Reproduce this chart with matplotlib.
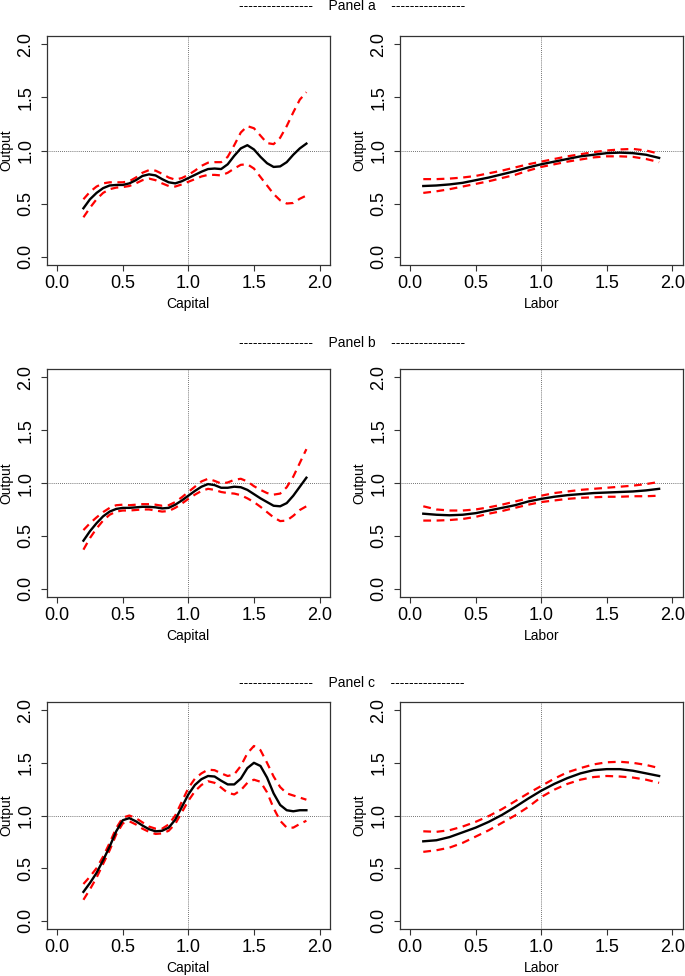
import matplotlib
matplotlib.use("Agg")
import matplotlib.pyplot as plt
import numpy as np

plt.rcParams['font.family'] = ['Liberation Sans', 'DejaVu Sans']

##### data #####
cap_x = [0.20, 0.25, 0.30, 0.35, 0.40, 0.45, 0.50, 0.55, 0.60, 0.65, 0.70, 0.75,
         0.80, 0.85, 0.90, 0.95, 1.00, 1.05, 1.10, 1.15, 1.20, 1.25, 1.30, 1.35,
         1.40, 1.45, 1.50, 1.55, 1.60, 1.65, 1.70, 1.75, 1.80, 1.85, 1.90]
lab_x = [0.1, 0.2, 0.3, 0.4, 0.5, 0.6, 0.7, 0.8, 0.9, 1.0,
         1.1, 1.2, 1.3, 1.4, 1.5, 1.6, 1.7, 1.8, 1.9]

# Panel a
a_cap_fit = [0.455, 0.54, 0.60, 0.645, 0.67, 0.675, 0.675, 0.69, 0.72, 0.76, 0.775, 0.765,
             0.73, 0.70, 0.69, 0.71, 0.74, 0.77, 0.80, 0.825, 0.83, 0.825, 0.87, 0.95,
             1.02, 1.05, 1.01, 0.94, 0.88, 0.845, 0.85, 0.89, 0.96, 1.02, 1.065]
a_cap_up = [0.54, 0.61, 0.66, 0.69, 0.70, 0.70, 0.70, 0.71, 0.745, 0.79, 0.815, 0.81,
            0.78, 0.745, 0.725, 0.74, 0.77, 0.81, 0.855, 0.885, 0.89, 0.89, 0.94, 1.05,
            1.17, 1.23, 1.21, 1.14, 1.07, 1.06, 1.12, 1.23, 1.36, 1.48, 1.55]
a_cap_lo = [0.37, 0.46, 0.54, 0.60, 0.635, 0.65, 0.655, 0.665, 0.69, 0.72, 0.735, 0.72,
            0.69, 0.665, 0.66, 0.68, 0.705, 0.73, 0.755, 0.77, 0.77, 0.765, 0.79, 0.83,
            0.865, 0.87, 0.83, 0.75, 0.67, 0.59, 0.53, 0.50, 0.505, 0.545, 0.575]
a_lab_fit = [0.665, 0.67, 0.68, 0.695, 0.72, 0.745, 0.775, 0.805, 0.84, 0.87,
             0.895, 0.92, 0.945, 0.96, 0.975, 0.98, 0.975, 0.96, 0.93]
a_lab_up = [0.73, 0.73, 0.735, 0.745, 0.76, 0.785, 0.81, 0.84, 0.87, 0.895,
            0.92, 0.945, 0.965, 0.985, 1.0, 1.01, 1.015, 1.0, 0.97]
a_lab_lo = [0.60, 0.615, 0.635, 0.66, 0.685, 0.71, 0.74, 0.77, 0.81, 0.845,
            0.87, 0.895, 0.915, 0.935, 0.945, 0.945, 0.94, 0.92, 0.89]

# Panel b
b_cap_fit = [0.455, 0.545, 0.62, 0.685, 0.73, 0.755, 0.765, 0.765, 0.77, 0.775, 0.775, 0.77,
             0.76, 0.765, 0.795, 0.835, 0.88, 0.925, 0.965, 0.99, 0.98, 0.955, 0.955, 0.965,
             0.96, 0.935, 0.895, 0.855, 0.82, 0.785, 0.78, 0.81, 0.88, 0.965, 1.05]
b_cap_up = [0.555, 0.62, 0.675, 0.725, 0.765, 0.79, 0.795, 0.79, 0.795, 0.80, 0.80, 0.795,
            0.785, 0.79, 0.82, 0.865, 0.915, 0.965, 1.015, 1.04, 1.02, 0.995, 1.005, 1.03,
            1.04, 1.015, 0.97, 0.935, 0.905, 0.89, 0.90, 0.96, 1.06, 1.19, 1.32]
b_cap_lo = [0.37, 0.48, 0.57, 0.645, 0.70, 0.73, 0.74, 0.74, 0.745, 0.75, 0.75, 0.74,
            0.73, 0.735, 0.765, 0.805, 0.85, 0.89, 0.925, 0.945, 0.935, 0.915, 0.905, 0.90,
            0.885, 0.855, 0.82, 0.775, 0.725, 0.675, 0.64, 0.645, 0.69, 0.745, 0.78]
b_lab_fit = [0.71, 0.70, 0.695, 0.70, 0.715, 0.74, 0.765, 0.79, 0.825, 0.85,
             0.87, 0.885, 0.895, 0.905, 0.91, 0.915, 0.92, 0.93, 0.945]
b_lab_up = [0.78, 0.75, 0.74, 0.74, 0.75, 0.77, 0.795, 0.825, 0.855, 0.88,
            0.905, 0.92, 0.935, 0.945, 0.955, 0.965, 0.975, 0.99, 1.01]
b_lab_lo = [0.645, 0.645, 0.65, 0.66, 0.68, 0.71, 0.735, 0.765, 0.795, 0.82,
            0.835, 0.85, 0.86, 0.865, 0.87, 0.87, 0.875, 0.875, 0.88]

# Panel c
c_cap_fit = [0.275, 0.36, 0.455, 0.575, 0.705, 0.85, 0.955, 0.975, 0.945, 0.905, 0.87, 0.85,
             0.855, 0.885, 0.96, 1.08, 1.20, 1.29, 1.345, 1.375, 1.37, 1.33, 1.295, 1.295,
             1.35, 1.45, 1.50, 1.47, 1.36, 1.21, 1.10, 1.05, 1.04, 1.05, 1.05]
c_cap_up = [0.35, 0.42, 0.50, 0.61, 0.74, 0.88, 0.98, 1.00, 0.975, 0.935, 0.895, 0.875,
            0.875, 0.915, 1.00, 1.13, 1.26, 1.35, 1.40, 1.435, 1.43, 1.40, 1.375, 1.39,
            1.47, 1.59, 1.66, 1.62, 1.50, 1.37, 1.27, 1.21, 1.19, 1.17, 1.15]
c_cap_lo = [0.20, 0.30, 0.41, 0.54, 0.67, 0.82, 0.925, 0.945, 0.915, 0.875, 0.845, 0.825,
            0.83, 0.855, 0.92, 1.03, 1.14, 1.23, 1.29, 1.325, 1.31, 1.265, 1.215, 1.20,
            1.24, 1.31, 1.34, 1.32, 1.22, 1.07, 0.95, 0.885, 0.885, 0.92, 0.95]
c_lab_fit = [0.755, 0.765, 0.795, 0.84, 0.885, 0.94, 1.005, 1.08, 1.16, 1.235,
             1.30, 1.355, 1.40, 1.43, 1.44, 1.44, 1.425, 1.40, 1.375]
c_lab_up = [0.85, 0.845, 0.86, 0.895, 0.94, 0.995, 1.06, 1.135, 1.21, 1.28,
            1.35, 1.41, 1.45, 1.485, 1.505, 1.51, 1.50, 1.48, 1.45]
c_lab_lo = [0.655, 0.67, 0.695, 0.74, 0.80, 0.86, 0.93, 1.00, 1.08, 1.175,
            1.245, 1.30, 1.34, 1.365, 1.375, 1.37, 1.36, 1.34, 1.31]

panels = ['a', 'b', 'c']
cap_data = [(a_cap_fit, a_cap_up, a_cap_lo), (b_cap_fit, b_cap_up, b_cap_lo), (c_cap_fit, c_cap_up, c_cap_lo)]
lab_data = [(a_lab_fit, a_lab_up, a_lab_lo), (b_lab_fit, b_lab_up, b_lab_lo), (c_lab_fit, c_lab_up, c_lab_lo)]

##### layout (pixels of a 685x976 figure) #####
W, H = 685, 976
fig = plt.figure(figsize=(W / 100, H / 100), dpi=100)

col_lr = [(46.7, 330.0), (399.7, 682.7)]
row_tb = [(36.0, 265.0), (368.7, 597.3), (701.7, 929.3)]
title_y = [6, 343, 683]


def style_axes(ax, xlabel):
    ax.set_xlim(-0.08, 2.08)
    ax.set_ylim(-0.08, 2.08)
    ax.set_xticks([0.0, 0.5, 1.0, 1.5, 2.0])
    ax.set_yticks([0.0, 0.5, 1.0, 1.5, 2.0])
    ax.set_xticklabels(['0.0', '0.5', '1.0', '1.5', '2.0'], fontsize=13)
    ax.set_yticklabels(['0.0', '0.5', '1.0', '1.5', '2.0'], fontsize=13,
                       rotation=90, va='center')
    ax.tick_params(direction='out', length=4, width=0.8, color='#333333')
    ax.tick_params(axis='x', pad=3)
    ax.tick_params(axis='y', pad=5)
    for s in ax.spines.values():
        s.set_linewidth(0.9)
        s.set_color('#333333')
    ax.set_xlabel(xlabel, fontsize=10)
    ax.set_ylabel('Output', fontsize=10)
    ax.xaxis.set_label_coords(0.5, -0.171)
    ax.xaxis.label.set_va('center')
    ax.yaxis.set_label_coords(-0.141, 0.5)
    ax.yaxis.label.set_va('center')
    # reference lines
    ax.axvline(1.0, color='#444444', lw=0.6, ls=(0, (1, 1.5)))
    ax.axhline(1.0, color='#444444', lw=0.6, ls=(0, (1, 1.5)))


for r in range(3):
    top, bot = row_tb[r]
    for c in range(2):
        left, right = col_lr[c]
        ax = fig.add_axes([left / W, 1 - bot / H, (right - left) / W, (bot - top) / H])
        if c == 0:
            x = cap_x
            fit, up, lo = cap_data[r]
            style_axes(ax, 'Capital')
        else:
            x = lab_x
            fit, up, lo = lab_data[r]
            style_axes(ax, 'Labor')
        ax.plot(x, up, color='red', lw=1.6, ls=(0, (3.5, 2.5)))
        ax.plot(x, lo, color='red', lw=1.6, ls=(0, (3.5, 2.5)))
        ax.plot(x, fit, color='black', lw=1.7)
    fig.text(352 / W, 1 - title_y[r] / H,
             '----------------    Panel ' + panels[r] + '    ----------------',
             ha='center', va='center', fontsize=10)

fig.savefig('out.png', dpi=100)
